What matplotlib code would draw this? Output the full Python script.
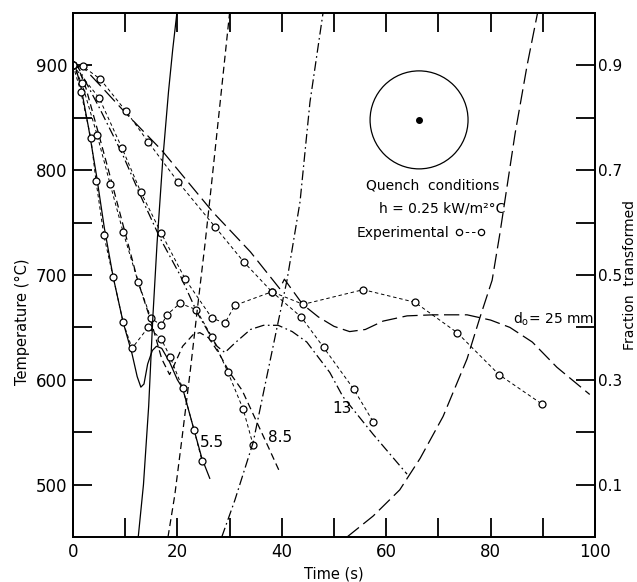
import matplotlib.pyplot as plt
from matplotlib.patches import Ellipse
from matplotlib.ticker import MultipleLocator

plt.rcParams['font.family'] = 'DejaVu Sans'
plt.rcParams['lines.scale_dashes'] = False

# calculated centre cooling curves (time s, temperature C)
t_55 = [0, 0.5, 1.5, 3, 4.5, 6, 7.7, 9.6, 11.3, 12.3, 13.0, 13.6, 14.3, 15.2, 16.0, 17.0, 18.5, 20.0, 21.0, 23.2, 24.7, 26.2]
T_55 = [900, 898, 880, 840, 795, 745, 698, 655, 625, 603, 593, 596, 615, 628, 632, 630, 617, 600, 592, 552, 525, 506]

t_85 = [0, 1, 2.5, 5, 7.5, 10, 12.5, 15, 17, 18.5, 19.2, 21, 23, 24.3, 26, 28, 30, 32.4, 35, 37.5, 39.7]
T_85 = [900, 898, 878, 833, 787, 740, 693, 655, 620, 605, 612, 632, 643, 645, 640, 625, 607, 590, 562, 535, 511]

t_13 = [0, 1, 5, 9.5, 13, 16.7, 20.5, 23.8, 26, 27.6, 29.1, 31, 34, 36.5, 39.3, 42, 44.8, 49.2, 51.7, 57.5, 64]
T_13 = [900, 898, 860, 815, 775, 735, 700, 664, 645, 632, 626, 635, 648, 652, 652, 646, 636, 607, 584, 548, 510]

t_25 = [0, 2, 5, 10, 17, 26.8, 34, 39.6, 40.5, 44, 47, 50, 53, 56, 59.4, 64, 69, 75.5, 80, 83.7, 88, 92.7, 99]
T_25 = [900, 898, 882, 855, 819, 760, 722, 687, 696, 672, 660, 651, 646, 648, 656, 661, 662, 662, 657, 650, 636, 612, 586]

# measured centre temperatures
te_55 = [0, 1.5, 3.4, 4.4, 5.9, 7.7, 9.6, 11.3, 14.4, 16.9, 18.6, 21.0, 23.2, 24.7]
Te_55 = [900, 875, 831, 790, 738, 698, 655, 630, 650, 639, 622, 592, 552, 523]

te_85 = [0, 1.7, 4.6, 7.1, 9.6, 12.5, 14.9, 16.9, 18.0, 20.5, 23.6, 26.6, 29.7, 32.6, 34.5]
Te_85 = [900, 883, 834, 787, 741, 693, 659, 652, 662, 673, 667, 641, 607, 572, 538]

te_13 = [0, 5.0, 9.4, 13.0, 16.9, 21.5, 26.6, 29.1, 31.0, 38.1, 43.7, 48.0, 53.8, 57.5]
Te_13 = [900, 869, 821, 779, 740, 696, 659, 654, 671, 684, 660, 631, 591, 560]

te_25 = [0, 1.9, 5.2, 10.2, 14.4, 20.1, 27.2, 32.8, 38.1, 44.1, 55.6, 65.5, 73.6, 81.6, 89.8]
Te_25 = [900, 899, 887, 856, 827, 789, 746, 712, 684, 672, 686, 674, 645, 605, 577]

# fraction transformed at the centre
tf_55 = [12.5, 13.5, 14.5, 15.3, 16.1, 17.2, 18.3, 19.1, 19.9]
f_55 = [0, 0.1, 0.25, 0.42, 0.56, 0.72, 0.85, 0.93, 1.0]
tf_85 = [18.2, 19.5, 20.9, 22.5, 24.0, 25.3, 26.5, 28.2, 30.0]
f_85 = [0, 0.08, 0.19, 0.32, 0.45, 0.56, 0.67, 0.83, 1.0]
tf_13 = [28.5, 31, 34.5, 37, 39.3, 41, 43.5, 45.4, 47.9]
f_13 = [0, 0.07, 0.18, 0.3, 0.41, 0.49, 0.64, 0.83, 1.0]
tf_25 = [52.5, 57.5, 62.6, 66.5, 70.9, 75.5, 78, 80.3, 81.8, 84.7, 87, 89]
f_25 = [0, 0.04, 0.09, 0.15, 0.23, 0.34, 0.42, 0.49, 0.58, 0.77, 0.90, 1.0]

solid = '-'
dash = (0, (5, 3))
dashdot = (0, (7, 2.5, 1.2, 2.5))
longdash = (0, (11, 4))
expdash = (0, (2.5, 2))

fig = plt.figure(figsize=(6.37, 5.82), dpi=100)
ax = fig.add_axes([0.1146, 0.0773, 0.8194, 0.9004])
ax2 = ax.twinx()

lw = 0.9
ax.plot(t_55, T_55, color='k', lw=lw, ls=solid)
ax.plot(t_85, T_85, color='k', lw=lw, ls=dash)
ax.plot(t_13, T_13, color='k', lw=lw, ls=dashdot)
ax.plot(t_25, T_25, color='k', lw=lw, ls=longdash)

for te, Te in [(te_55, Te_55), (te_85, Te_85), (te_13, Te_13), (te_25, Te_25)]:
    ax.plot(te, Te, color='k', lw=0.7, ls=expdash, marker='o', ms=5,
            mfc='white', mec='k', mew=0.9)

ax2.plot(tf_55, f_55, color='k', lw=lw, ls=solid)
ax2.plot(tf_85, f_85, color='k', lw=lw, ls=dash)
ax2.plot(tf_13, f_13, color='k', lw=lw, ls=dashdot)
ax2.plot(tf_25, f_25, color='k', lw=lw, ls=longdash)

ax.set_xlim(0, 100)
ax.set_ylim(450, 950)
ax2.set_ylim(0, 1)

ax.xaxis.set_major_locator(MultipleLocator(20))
ax.xaxis.set_minor_locator(MultipleLocator(10))
ax.set_yticks([500, 600, 700, 800, 900])
ax.set_yticks([550, 650, 750, 850], minor=True)
ax2.set_yticks([0.1, 0.3, 0.5, 0.7, 0.9])
ax2.set_yticks([0.2, 0.4, 0.6, 0.8], minor=True)
ax2.set_yticklabels(['0.1', '0.3', '0.5', '0.7', '0.9'])

ax.tick_params(which='both', direction='in', length=14, width=1.3,
               top=True, right=False, labelsize=12, pad=4)
ax2.tick_params(which='both', direction='in', length=14, width=1.3,
                labelsize=11, pad=2)
for a in (ax, ax2):
    for s in a.spines.values():
        s.set_linewidth(1.3)

ax.set_xlabel('Time (s)', fontsize=10.5)
ax.set_ylabel('Temperature (°C)', fontsize=10.5)
ax.yaxis.set_label_coords(-0.083, 0.41)
ax2.set_ylabel('Fraction  transformed', fontsize=10)
ax2.yaxis.set_label_coords(1.054, 0.5)

ax.text(24.3, 540, '5.5', fontsize=11, va='center')
ax.text(37.4, 545, '8.5', fontsize=11, va='center')
ax.text(49.6, 573, '13', fontsize=11, va='center')
ax.text(84.3, 658, r'd$_\mathrm{o}$= 25 mm', fontsize=10, va='center')

# cross-section sketch with the thermocouple at the centre
ax.add_patch(Ellipse((0.663, 0.796), 0.1877, 0.187, transform=ax.transAxes,
                     fill=False, lw=0.9, color='k'))
ax.plot([0.663], [0.796], 'ko', ms=4, transform=ax.transAxes)
ax.text(0.690, 0.670, 'Quench  conditions', transform=ax.transAxes,
        ha='center', va='center', fontsize=10)
ax.text(0.708, 0.626, 'h = 0.25 kW/m²°C', transform=ax.transAxes,
        ha='center', va='center', fontsize=10)
h, = ax.plot([], [], color='k', lw=0.7, ls=expdash, marker='o', ms=4.5,
             mfc='white', mec='k', mew=0.9)
ax.legend([h], ['Experimental'], loc='center left', bbox_to_anchor=(0.53, 0.580),
          frameon=False, markerfirst=False, numpoints=2, fontsize=10,
          handlelength=2.2, handletextpad=0.4, borderpad=0)

fig.savefig('out.png', dpi=100)
